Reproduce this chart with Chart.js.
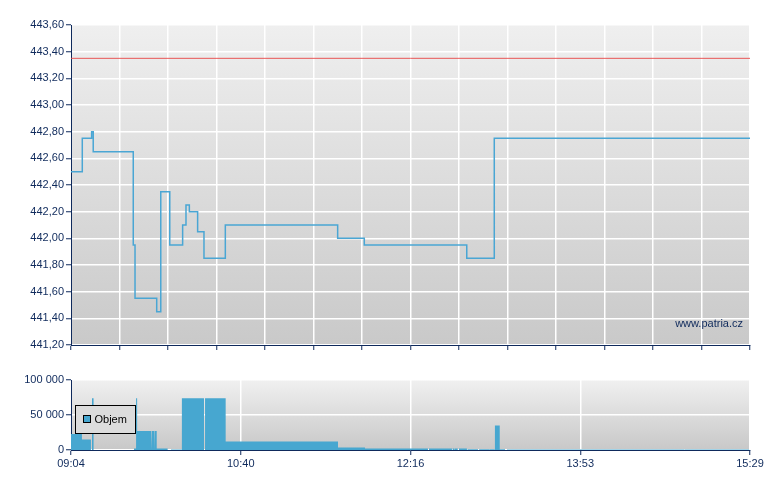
<!DOCTYPE html>
<html><head><meta charset="utf-8">
<script src="https://cdn.jsdelivr.net/npm/chart.js@4"></script>
<style>
body{margin:0;background:#fff}
#wrap{position:relative;width:780px;height:490px}
canvas{position:absolute;left:0}
</style>
</head><body>
<div id="wrap">
<canvas id="price" width="780" height="360" style="top:0"></canvas>
<canvas id="vol" width="780" height="130" style="top:360px"></canvas>
</div>
<script>
// session in minutes since midnight (09:04 .. 15:29)
const sessionStart = 544;
const sessionEnd = 929;
const timeTickLabels = ['09:04', '10:40', '12:16', '13:53', '15:29'];

// price changes: time (minutes) at which the price became the given value
const priceTimes  = [544, 550.4, 555.7, 556.6, 579.3, 580.3, 592.6, 594.9, 600.0, 607.3, 609.2, 611.1, 615.8, 619.4, 631.5, 695.2, 710.3, 768.4, 784.0, 929];
const priceValues = [442.50, 442.75, 442.80, 442.65, 441.95, 441.55, 441.45, 442.35, 441.95, 442.10, 442.25, 442.20, 442.05, 441.85, 442.10, 442.00, 441.95, 441.85, 442.75, 442.75];
const prevClose = 443.35;

// volume bars: start time, end time, traded volume
const volStart = [544.0, 550.2, 555.9, 579.7, 580.9, 581.5, 589.9, 591.6, 592.6, 600.7, 606.9, 620.0, 631.7, 695.4, 710.7, 747.0, 760.4, 761.7, 764.0, 768.8, 769.6, 775.4, 781.3, 784.4, 787.1, 791.2, 892.1];
const volEnd   = [550.2, 555.3, 556.8, 580.9, 581.5, 589.4, 591.2, 592.6, 598.8, 606.8, 619.4, 631.7, 695.4, 710.7, 746.4, 760.0, 761.2, 763.3, 768.5, 769.6, 774.8, 781.1, 784.3, 787.1, 790.1, 891.6, 928.6];
const volValue = [23000, 15000, 74000, 2000, 74000, 27000, 27000, 27000, 2000, 700, 74000, 74000, 12000, 3600, 2200, 2200, 2200, 2200, 2200, 1000, 1000, 1000, 1000, 35000, 1000, 700, 700];

const volumeLabel = 'Objem';
const sourceLabel = 'www.patria.cz';

const NAVY = '#0f2a5c';
const FONT = "'Liberation Sans', Arial, sans-serif";
Chart.defaults.font.family = FONT;
Chart.defaults.font.size = 11;
Chart.defaults.color = NAVY;

const bgPlugin = {
  id: 'bg',
  beforeDraw(chart, args, opts) {
    const {ctx, chartArea: a} = chart;
    const g = ctx.createLinearGradient(0, a.top, 0, a.bottom);
    g.addColorStop(0, opts.top);
    g.addColorStop(1, opts.bottom);
    ctx.save();
    ctx.fillStyle = g;
    ctx.fillRect(a.left, a.top, a.right - a.left, a.bottom - a.top);
    ctx.restore();
  }
};

const watermarkPlugin = {
  id: 'watermark',
  afterDraw(chart) {
    const {ctx, chartArea: a} = chart;
    ctx.save();
    ctx.font = '11px ' + FONT;
    ctx.fillStyle = NAVY;
    ctx.textAlign = 'right';
    ctx.textBaseline = 'alphabetic';
    ctx.fillText(sourceLabel, a.right - 7, a.bottom - 18.5);
    ctx.restore();
  }
};

const volLegendPlugin = {
  id: 'volLegend',
  afterDatasetsDraw(chart) {
    const {ctx, chartArea: a} = chart;
    const ds = chart.data.datasets[0];
    const x = a.left + 4.5, y = a.top + 25.5, w = 60, h = 28;
    ctx.save();
    ctx.fillStyle = '#dcdcdc';
    ctx.fillRect(x, y, w, h);
    ctx.strokeStyle = '#000';
    ctx.lineWidth = 1;
    ctx.strokeRect(x, y, w, h);
    ctx.fillStyle = ds.backgroundColor;
    ctx.fillRect(x + 8, y + 10, 7, 7);
    ctx.strokeRect(x + 8, y + 10, 7, 7);
    ctx.fillStyle = '#000';
    ctx.font = '11px ' + FONT;
    ctx.textAlign = 'left';
    ctx.textBaseline = 'middle';
    ctx.fillText(ds.label, x + 19, y + 14.5);
    ctx.restore();
  }
};

function yAxis(min, max, step, fmt) {
  return {
    type: 'linear', min, max,
    ticks: {stepSize: step, color: NAVY, padding: 2, callback: fmt, font: {size: 11}},
    grid: {color: '#ffffff', lineWidth: 1.5, tickColor: NAVY, tickLength: 5, tickWidth: 1},
    border: {color: NAVY, width: 1},
    afterFit(s) { s.width = 71; }
  };
}

// price chart
new Chart(document.getElementById('price'), {
  type: 'line',
  data: {
    datasets: [
      {
        label: 'Kurz',
        data: priceTimes.map((t, i) => ({x: t, y: priceValues[i]})),
        borderColor: '#4aa6d4',
        borderWidth: 1.5,
        stepped: true,
        pointRadius: 0,
        fill: false
      },
      {
        label: 'Předchozí závěr',
        data: [{x: sessionStart, y: prevClose}, {x: sessionEnd, y: prevClose}],
        borderColor: 'rgba(232,70,70,0.9)',
        borderWidth: 1,
        pointRadius: 0,
        fill: false
      }
    ]
  },
  options: {
    responsive: false,
    animation: false,
    devicePixelRatio: 1,
    layout: {padding: {top: 25, right: 30, left: 0, bottom: 0}},
    plugins: {legend: {display: false}, tooltip: {enabled: false}, bg: {top: '#efefef', bottom: '#c9c9c9'}},
    scales: {
      x: {
        type: 'linear', min: sessionStart, max: sessionEnd,
        ticks: {display: false, stepSize: (sessionEnd - sessionStart) / 14, autoSkip: false},
        grid: {color: '#ffffff', lineWidth: 1.5, tickColor: NAVY, tickLength: 5, tickWidth: 1},
        border: {color: NAVY, width: 1},
        afterFit(s) { s.height = 15; }
      },
      y: yAxis(441.2, 443.6, 0.2, v => v.toFixed(2).replace('.', ','))
    }
  },
  plugins: [bgPlugin, watermarkPlugin]
});

// volume chart
const volPoints = [];
volStart.forEach((s, i) => {
  volPoints.push({x: s, y: 0}, {x: s, y: volValue[i]}, {x: volEnd[i], y: volValue[i]}, {x: volEnd[i], y: 0});
});

new Chart(document.getElementById('vol'), {
  type: 'line',
  data: {
    datasets: [{
      label: volumeLabel,
      data: volPoints,
      borderColor: 'rgba(0,0,0,0)',
      borderWidth: 0,
      backgroundColor: '#47a7d0',
      fill: 'origin',
      pointRadius: 0,
      tension: 0
    }]
  },
  options: {
    responsive: false,
    animation: false,
    devicePixelRatio: 1,
    layout: {padding: {top: 20, right: 30, left: 0, bottom: 0}},
    plugins: {legend: {display: false}, tooltip: {enabled: false}, bg: {top: '#f0f0f0', bottom: '#c8c8c8'}},
    scales: {
      x: {
        type: 'linear', min: sessionStart, max: sessionEnd,
        ticks: {stepSize: (sessionEnd - sessionStart) / 4, autoSkip: false, maxRotation: 0, padding: 2, color: NAVY,
                callback: (v, i) => timeTickLabels[i]},
        grid: {color: '#ffffff', lineWidth: 1.5, tickColor: NAVY, tickLength: 5, tickWidth: 1},
        border: {color: NAVY, width: 1},
        afterFit(s) { s.height = 40; }
      },
      y: yAxis(0, 100000, 50000, v => String(v).replace(/\B(?=(\d{3})+(?!\d))/g, ' '))
    }
  },
  plugins: [bgPlugin, volLegendPlugin]
});
</script>
</body></html>
